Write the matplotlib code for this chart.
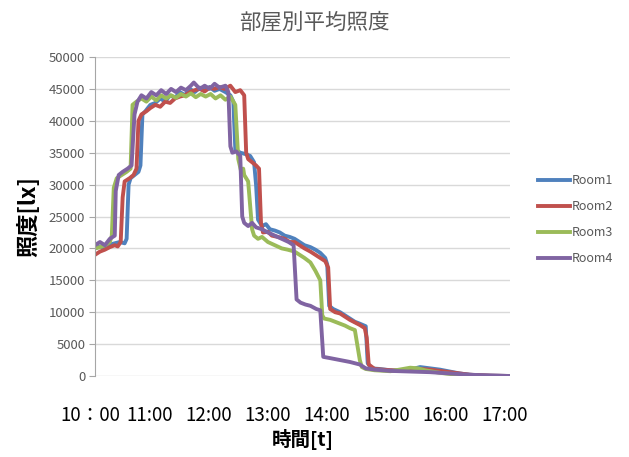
import matplotlib
matplotlib.use("Agg")
import matplotlib.pyplot as plt
import matplotlib.transforms as mtransforms

plt.rcParams['font.family'] = ['Noto Sans CJK JP', 'DejaVu Sans']

title = "部屋別平均照度"
x_label = "時間[t]"
y_label = "照度[lx]"
series_names = ["Room1", "Room2", "Room3", "Room4"]
colors = ["#4F81BD", "#C0504D", "#9BBB59", "#8064A2"]
x_tick_minutes = [0, 60, 120, 180, 240, 300, 360, 420]
x_tick_labels = ["10：00", "11:00", "12:00", "13:00", "14:00", "15:00", "16:00", "17:00"]
y_ticks = [0, 5000, 10000, 15000, 20000, 25000, 30000, 35000, 40000, 45000, 50000]

# minutes after 10:00, illuminance [lx]
room1_t = [0, 5, 10, 15, 20, 25, 30, 32, 34, 36, 40, 44, 46, 48, 51, 56, 61, 66, 71, 76, 81, 86, 91, 96,
           101, 106, 111, 116, 121, 126, 132, 137, 140, 142, 147, 152, 157, 161, 163, 165, 169, 173, 177,
           182, 187, 192, 197, 202, 207, 212, 218, 223, 228, 233, 235, 237, 241, 248, 253, 258, 263, 268,
           274, 276, 280, 288, 299, 309, 319, 324, 329, 339, 349, 359, 369, 379, 389, 400, 420]
room1_v = [20000, 20300, 20000, 20600, 20800, 21000, 20800, 21500, 30000, 31000, 31500, 32000, 33000, 41000,
           41500, 42500, 42800, 43500, 43000, 44000, 43600, 44500, 44000, 45000, 44500, 45200, 44800, 45300,
           44700, 45000, 44500, 44000, 43000, 35500, 35000, 34800, 34500, 33500, 30000, 24500, 23500, 23800,
           23000, 22800, 22500, 22000, 21800, 21500, 21000, 20500, 20200, 19800, 19300, 18500, 17500, 11000,
           10500, 10000, 9500, 9000, 8500, 8200, 7800, 2000, 1200, 1100, 900, 850, 800, 1200, 1400, 1200,
           1000, 700, 400, 200, 100, 50, 0]

room2_t = [0, 5, 10, 15, 20, 23, 26, 28, 30, 35, 39, 42, 44, 47, 52, 56, 61, 66, 71, 76, 81, 86, 91, 96,
           101, 106, 111, 116, 121, 126, 131, 137, 142, 147, 151, 153, 155, 159, 163, 166, 168, 170, 175,
           179, 185, 192, 197, 202, 207, 212, 218, 223, 228, 233, 236, 238, 243, 248, 253, 258, 263, 268,
           273, 275, 277, 283, 299, 319, 329, 339, 359, 379, 400, 420]
room2_v = [19000, 19500, 19800, 20200, 20500, 20300, 21000, 28000, 30500, 31000, 31500, 32500, 40000, 41000,
           41500, 42000, 42500, 42200, 43000, 42800, 43500, 43800, 44000, 44500, 44800, 45000, 44600, 45200,
           45000, 45300, 45000, 45500, 44500, 44800, 44000, 35000, 34000, 33500, 33000, 32500, 24000, 22500,
           22600, 22000, 21800, 21500, 21000, 21000, 20500, 20000, 19500, 19000, 18500, 18000, 17000, 10500,
           10000, 9800, 9300, 8800, 8400, 8000, 7500, 6000, 1800, 1100, 900, 800, 1100, 1000, 600, 200, 50, 0]

room3_t = [0, 5, 10, 15, 17, 19, 22, 27, 32, 36, 38, 42, 47, 52, 57, 62, 67, 72, 77, 82, 87, 92, 97, 102,
           107, 112, 117, 122, 127, 132, 137, 142, 145, 148, 150, 151, 155, 159, 161, 165, 169, 175, 182,
           189, 195, 202, 207, 212, 218, 223, 228, 230, 232, 238, 243, 248, 253, 258, 263, 268, 270, 274,
           283, 299, 319, 327, 334, 349, 369, 389, 420]
room3_v = [20000, 20200, 20500, 21000, 22000, 29500, 31000, 31500, 32000, 32500, 42500, 43000, 43500, 43000,
           43800, 43200, 44000, 43500, 44000, 43600, 44200, 43800, 44300, 43700, 44200, 43800, 44200, 43500,
           44000, 43300, 43800, 42500, 34000, 32000, 32500, 31500, 30500, 23000, 22000, 21500, 21800, 21000,
           20500, 20000, 19800, 19500, 19000, 18500, 17800, 16500, 15000, 9500, 9000, 8800, 8500, 8200, 7900,
           7500, 7200, 2500, 1400, 1100, 900, 750, 1300, 1200, 900, 500, 150, 0, 0]

room4_t = [0, 5, 10, 15, 20, 21, 24, 28, 33, 37, 40, 43, 47, 52, 57, 62, 67, 72, 77, 82, 87, 92, 97, 100,
           106, 111, 116, 121, 126, 132, 135, 137, 139, 143, 147, 149, 151, 155, 159, 163, 169, 175, 182,
           189, 196, 201, 204, 208, 213, 218, 224, 228, 231, 238, 248, 258, 268, 274, 283, 299, 319, 339,
           359, 379, 400, 420]
room4_v = [20500, 21000, 20500, 21500, 22000, 29000, 31500, 32000, 32500, 33000, 41000, 43000, 44000, 43500,
           44500, 44000, 44800, 44200, 45000, 44500, 45200, 44800, 45500, 46000, 45000, 45500, 45000, 45800,
           45200, 45500, 44500, 36000, 35000, 35200, 34500, 25000, 24000, 23500, 24000, 23300, 23000, 22500,
           22000, 21500, 21000, 20500, 12000, 11500, 11200, 11000, 10500, 10300, 3000, 2800, 2500, 2200, 1800,
           1200, 1000, 800, 700, 600, 400, 200, 80, 0]

all_t = [room1_t, room2_t, room3_t, room4_t]
all_v = [room1_v, room2_v, room3_v, room4_v]

fig = plt.figure(figsize=(6.29, 4.57), dpi=100)
ax = fig.add_axes([95 / 629, 1 - 376 / 457, 415 / 629, (376 - 57) / 457])

for name, c, t, v in zip(series_names, colors, all_t, all_v):
    ax.plot(t, v, color=c, lw=2.8, label=name, solid_joinstyle='round')

ax.set_xlim(0, 420)
ax.set_ylim(0, 50000)
ax.set_yticks(y_ticks)
ax.set_yticklabels([str(v) for v in y_ticks], color="#595959", fontsize=9.5)
ax.yaxis.grid(True, color="#D9D9D9", lw=1)
ax.set_axisbelow(True)
ax.tick_params(axis='y', length=4, color="#A6A6A6", pad=3)

ax.set_xticks(x_tick_minutes)
ax.set_xticklabels(x_tick_labels, fontsize=13.5, color="black")
ax.tick_params(axis='x', length=0, pad=21)
offset = mtransforms.ScaledTranslation(-5 / 100, 0, fig.dpi_scale_trans)
for lab in ax.get_xticklabels():
    lab.set_transform(lab.get_transform() + offset)

for s in ["top", "right", "bottom"]:
    ax.spines[s].set_visible(False)
ax.spines["left"].set_color("#A6A6A6")

ax.set_xlabel(x_label, fontsize=14, fontweight='bold', labelpad=2)
ax.set_ylabel(y_label, fontsize=16, fontweight='bold', labelpad=6)

fig.text(0.5, 1 - 22 / 457, title, ha='center', va='center', fontsize=15.5, color="#595959")

leg = ax.legend(loc='center left', bbox_to_anchor=(1.04, 0.49), frameon=False, fontsize=9,
                handlelength=2.6, handletextpad=0.1, labelspacing=1.05)
for txt in leg.get_texts():
    txt.set_color("#595959")

fig.savefig("out.png", dpi=100)
